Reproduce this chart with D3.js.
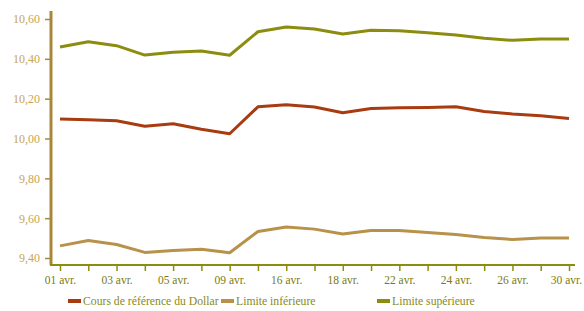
<!DOCTYPE html>
<html>
<head>
<meta charset="utf-8">
<script src="https://cdn.jsdelivr.net/npm/d3@7"></script>
<style>
  body { margin: 0; background: #fff; }
  svg { display: block; }
  svg text { font-family: "Liberation Serif", "Times New Roman", "DejaVu Serif", serif; }
</style>
</head>
<body>
<svg></svg>
<script>
// dates (april), labels shown every other tick
const days = ['01', '02', '03', '04', '05', '08', '09', '15', '16', '17', '18', '19', '22', '23', '24', '25', '26', '29', '30'];
const cours = [10.098, 10.094, 10.089, 10.062, 10.074, 10.046, 10.024, 10.159, 10.169, 10.158, 10.129, 10.151, 10.154, 10.156, 10.159, 10.136, 10.123, 10.114, 10.101];
const limInf = [9.461, 9.488, 9.468, 9.428, 9.438, 9.444, 9.426, 9.533, 9.556, 9.545, 9.521, 9.538, 9.538, 9.528, 9.518, 9.503, 9.493, 9.501, 9.501];
const limSup = [10.459, 10.486, 10.466, 10.419, 10.433, 10.439, 10.418, 10.536, 10.560, 10.550, 10.525, 10.543, 10.541, 10.531, 10.520, 10.503, 10.493, 10.500, 10.500];
const yTicks = [9.4, 9.6, 9.8, 10.0, 10.2, 10.4, 10.6];

const series = [
  {name: 'Cours de référence du Dollar', values: cours, color: '#a83c10'},
  {name: 'Limite inférieure', values: limInf, color: '#b8914a'},
  {name: 'Limite supérieure', values: limSup, color: '#8c8c10'}
];

const width = 584, height = 311;
const svg = d3.select('svg').attr('width', width).attr('height', height);

const x = d3.scalePoint().domain(days).range([60, 569]);
const y = d3.scaleLinear().domain([9.4, 10.6]).range([258, 19]);

// lines
const line = d3.line()
  .x((d, i) => x(days[i]))
  .y(d => y(d));

svg.append('g')
  .selectAll('path')
  .data(series)
  .join('path')
  .attr('fill', 'none')
  .attr('stroke', d => d.color)
  .attr('stroke-width', 3)
  .attr('stroke-linejoin', 'round')
  .attr('d', d => line(d.values));

// y axis
const yAxis = svg.append('g')
  .attr('transform', 'translate(51,0)')
  .call(d3.axisLeft(y).tickValues(yTicks).tickSize(6).tickPadding(5)
    .tickFormat(d => d3.format('.2f')(d).replace('.', ',')));
yAxis.select('.domain').remove();
yAxis.selectAll('.tick line').attr('stroke', '#a8873a').attr('stroke-width', 1.5);
yAxis.selectAll('text').attr('fill', '#c9a552').style('font-size', '12px');
yAxis.append('line')
  .attr('x1', 0).attr('x2', 0).attr('y1', 11).attr('y2', 265)
  .attr('stroke', '#a8873a').attr('stroke-width', 3);

// x axis
const xAxis = svg.append('g')
  .attr('transform', 'translate(0,265)')
  .call(d3.axisBottom(x).tickSize(6).tickPadding(5)
    .tickFormat((d, i) => i % 2 === 0 ? d + ' avr.' : ''));
xAxis.select('.domain').remove();
xAxis.selectAll('.tick line').attr('stroke', '#8c8c10').attr('stroke-width', 1.5);
xAxis.selectAll('text').attr('fill', '#7a7a10').style('font-size', '11.5px');
// keep last label inside the frame
xAxis.selectAll('.tick text').filter(d => d === days[days.length - 1]).attr('dx', -3);
xAxis.append('line')
  .attr('x1', 50).attr('x2', 575).attr('y1', 0).attr('y2', 0)
  .attr('stroke', '#8c8c10').attr('stroke-width', 2);

// legend
const legendX = [68, 221, 377];
const legend = svg.append('g')
  .selectAll('g')
  .data(series)
  .join('g')
  .attr('transform', (d, i) => `translate(${legendX[i]},301)`);

legend.append('rect')
  .attr('x', 0).attr('y', -2)
  .attr('width', 13).attr('height', 4)
  .attr('fill', d => d.color);

legend.append('text')
  .attr('x', 15).attr('y', 4)
  .attr('fill', '#8a8a20')
  .style('font-size', '11.7px')
  .text(d => d.name);
</script>
</body>
</html>
